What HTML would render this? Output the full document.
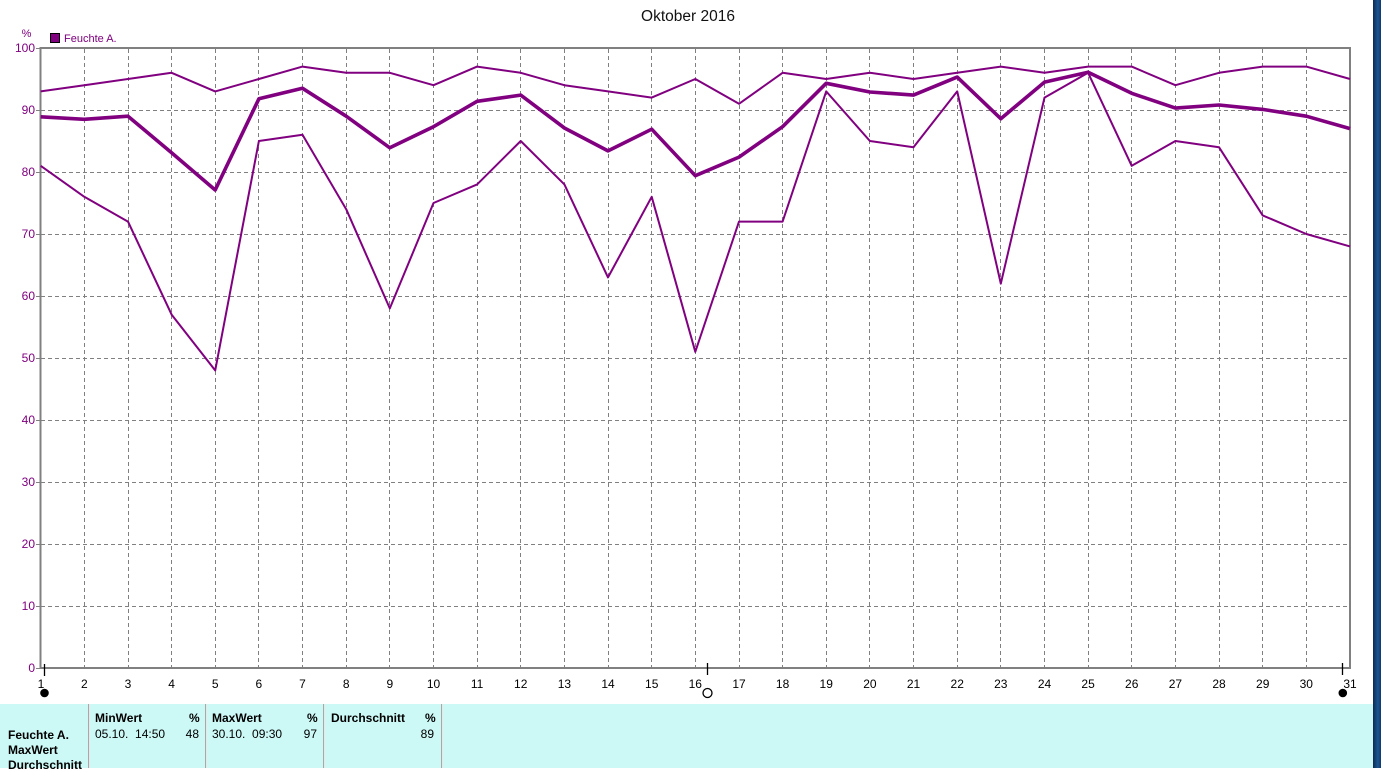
<!DOCTYPE html>
<html>
<head>
<meta charset="utf-8">
<style>
html,body{margin:0;padding:0;background:#fff;}
body{width:1381px;height:768px;overflow:hidden;position:relative;font-family:"Liberation Sans",Arial,sans-serif;}
#strip{position:absolute;left:1373px;top:0;width:8px;height:768px;background:linear-gradient(to right,#0b2a52,#1b5592 60%,#0e3a6e);}
#panel{position:absolute;left:0;top:704px;width:1373px;height:64px;background:#ccf8f6;}
.sep{position:absolute;top:704px;height:64px;width:1px;background:#a8a8a8;border-right:1px solid #e8e8e8;}
.t{position:absolute;font-size:12px;color:#000;white-space:nowrap;line-height:14px;}
.b{font-weight:bold;}
</style>
</head>
<body>
<svg width="1381" height="704" style="position:absolute;left:0;top:0" xmlns="http://www.w3.org/2000/svg">
  <text x="688" y="21" font-family="Liberation Sans, Arial, sans-serif" font-size="15.5" text-anchor="middle" fill="#111">Oktober 2016</text>
  <text x="26.5" y="37" font-family="Liberation Sans, Arial, sans-serif" font-size="11" text-anchor="middle" fill="#800080">%</text>
  <rect x="50.5" y="33.5" width="9" height="9" fill="#800080" stroke="#000" stroke-width="1"/>
  <text x="64" y="42" font-family="Liberation Sans, Arial, sans-serif" font-size="11" fill="#800080">Feuchte A.</text>

  <g stroke="#808080" stroke-width="1" stroke-dasharray="4 3" fill="none">
    <line x1="41" y1="606.5" x2="1349" y2="606.5"/>
    <line x1="41" y1="544.5" x2="1349" y2="544.5"/>
    <line x1="41" y1="482.5" x2="1349" y2="482.5"/>
    <line x1="41" y1="420.5" x2="1349" y2="420.5"/>
    <line x1="41" y1="358.5" x2="1349" y2="358.5"/>
    <line x1="41" y1="296.5" x2="1349" y2="296.5"/>
    <line x1="41" y1="234.5" x2="1349" y2="234.5"/>
    <line x1="41" y1="172.5" x2="1349" y2="172.5"/>
    <line x1="41" y1="110.5" x2="1349" y2="110.5"/>
    <line x1="84.5" y1="49" x2="84.5" y2="667"/>
    <line x1="128.5" y1="49" x2="128.5" y2="667"/>
    <line x1="171.5" y1="49" x2="171.5" y2="667"/>
    <line x1="215.5" y1="49" x2="215.5" y2="667"/>
    <line x1="258.5" y1="49" x2="258.5" y2="667"/>
    <line x1="302.5" y1="49" x2="302.5" y2="667"/>
    <line x1="346.5" y1="49" x2="346.5" y2="667"/>
    <line x1="389.5" y1="49" x2="389.5" y2="667"/>
    <line x1="433.5" y1="49" x2="433.5" y2="667"/>
    <line x1="477.5" y1="49" x2="477.5" y2="667"/>
    <line x1="520.5" y1="49" x2="520.5" y2="667"/>
    <line x1="564.5" y1="49" x2="564.5" y2="667"/>
    <line x1="608.5" y1="49" x2="608.5" y2="667"/>
    <line x1="651.5" y1="49" x2="651.5" y2="667"/>
    <line x1="695.5" y1="49" x2="695.5" y2="667"/>
    <line x1="739.5" y1="49" x2="739.5" y2="667"/>
    <line x1="782.5" y1="49" x2="782.5" y2="667"/>
    <line x1="826.5" y1="49" x2="826.5" y2="667"/>
    <line x1="869.5" y1="49" x2="869.5" y2="667"/>
    <line x1="913.5" y1="49" x2="913.5" y2="667"/>
    <line x1="957.5" y1="49" x2="957.5" y2="667"/>
    <line x1="1000.5" y1="49" x2="1000.5" y2="667"/>
    <line x1="1044.5" y1="49" x2="1044.5" y2="667"/>
    <line x1="1088.5" y1="49" x2="1088.5" y2="667"/>
    <line x1="1131.5" y1="49" x2="1131.5" y2="667"/>
    <line x1="1175.5" y1="49" x2="1175.5" y2="667"/>
    <line x1="1219.5" y1="49" x2="1219.5" y2="667"/>
    <line x1="1262.5" y1="49" x2="1262.5" y2="667"/>
    <line x1="1306.5" y1="49" x2="1306.5" y2="667"/>
  </g>

  <g stroke="#808080" stroke-width="2" fill="none">
    <line x1="40.5" y1="48" x2="1350" y2="48"/>
    <line x1="1350" y1="47" x2="1350" y2="669"/>
    <line x1="40.5" y1="47" x2="40.5" y2="669"/>
    <line x1="39.5" y1="668" x2="1351" y2="668"/>
  </g>
  <g stroke="#808080" stroke-width="1">
    <line x1="36" y1="48.5" x2="40" y2="48.5"/>
    <line x1="36" y1="110.5" x2="40" y2="110.5"/>
    <line x1="36" y1="172.5" x2="40" y2="172.5"/>
    <line x1="36" y1="234.5" x2="40" y2="234.5"/>
    <line x1="36" y1="296.5" x2="40" y2="296.5"/>
    <line x1="36" y1="358.5" x2="40" y2="358.5"/>
    <line x1="36" y1="420.5" x2="40" y2="420.5"/>
    <line x1="36" y1="482.5" x2="40" y2="482.5"/>
    <line x1="36" y1="544.5" x2="40" y2="544.5"/>
    <line x1="36" y1="606.5" x2="40" y2="606.5"/>
    <line x1="36" y1="668.5" x2="40" y2="668.5"/>
  </g>

  <g font-family="Liberation Sans, Arial, sans-serif" font-size="12" fill="#800080" text-anchor="end">
    <text x="35" y="52">100</text>
    <text x="35" y="114">90</text>
    <text x="35" y="176">80</text>
    <text x="35" y="238">70</text>
    <text x="35" y="300">60</text>
    <text x="35" y="362">50</text>
    <text x="35" y="424">40</text>
    <text x="35" y="486">30</text>
    <text x="35" y="548">20</text>
    <text x="35" y="610">10</text>
    <text x="35" y="672">0</text>
  </g>

  <g font-family="Liberation Sans, Arial, sans-serif" font-size="12" fill="#000" text-anchor="middle">
    <text x="41" y="688">1</text>
    <text x="84.3" y="688">2</text>
    <text x="128" y="688">3</text>
    <text x="171.6" y="688">4</text>
    <text x="215.2" y="688">5</text>
    <text x="258.9" y="688">6</text>
    <text x="302.5" y="688">7</text>
    <text x="346.2" y="688">8</text>
    <text x="389.8" y="688">9</text>
    <text x="433.5" y="688">10</text>
    <text x="477.1" y="688">11</text>
    <text x="520.7" y="688">12</text>
    <text x="564.4" y="688">13</text>
    <text x="608" y="688">14</text>
    <text x="651.7" y="688">15</text>
    <text x="695.3" y="688">16</text>
    <text x="739" y="688">17</text>
    <text x="782.6" y="688">18</text>
    <text x="826.2" y="688">19</text>
    <text x="869.9" y="688">20</text>
    <text x="913.5" y="688">21</text>
    <text x="957.2" y="688">22</text>
    <text x="1000.8" y="688">23</text>
    <text x="1044.5" y="688">24</text>
    <text x="1088.1" y="688">25</text>
    <text x="1131.7" y="688">26</text>
    <text x="1175.4" y="688">27</text>
    <text x="1219" y="688">28</text>
    <text x="1262.7" y="688">29</text>
    <text x="1306.3" y="688">30</text>
    <text x="1350" y="688">31</text>
  </g>

  <g stroke="#000" stroke-width="1.3">
    <line x1="44.5" y1="664" x2="44.5" y2="676"/>
    <line x1="707.5" y1="663" x2="707.5" y2="675"/>
    <line x1="1342.5" y1="663" x2="1342.5" y2="675"/>
  </g>
  <circle cx="44.5" cy="693" r="4.3" fill="#000"/>
  <circle cx="707.5" cy="693" r="4.5" fill="none" stroke="#000" stroke-width="1.3"/>
  <circle cx="1342.8" cy="693" r="4.3" fill="#000"/>

  <g fill="none" stroke="#800080" stroke-linejoin="round">
    <polyline stroke-width="2" points="40.7,91.4 84.3,85.2 128,79 171.6,72.8 215.2,91.4 258.9,79 302.5,66.6 346.2,72.8 389.8,72.8 433.5,85.2 477.1,66.6 520.7,72.8 564.4,85.2 608,91.4 651.7,97.6 695.3,79 739,103.8 782.6,72.8 826.2,79 869.9,72.8 913.5,79 957.2,72.8 1000.8,66.6 1044.5,72.8 1088.1,66.6 1131.7,66.6 1175.4,85.2 1219,72.8 1262.7,66.6 1306.3,66.6 1350,79"/>
    <polyline stroke-width="3.6" points="40.7,116.8 84.3,119.3 128,116.2 171.6,152.8 215.2,190 258.9,98.8 302.5,88.3 346.2,116.2 389.8,147.8 433.5,126.7 477.1,101.3 520.7,95.1 564.4,128 608,150.9 651.7,129.2 695.3,175.7 739,157.1 782.6,126.7 826.2,83.3 869.9,92 913.5,95.1 957.2,77.1 1000.8,118.7 1044.5,82.1 1088.1,72.2 1131.7,93.3 1175.4,108.1 1219,105 1262.7,109.4 1306.3,116.2 1350,128.6"/>
    <polyline stroke-width="2" points="40.7,165.8 84.3,196.8 128,221.6 171.6,314.6 215.2,370.4 258.9,141 302.5,134.8 346.2,209.2 389.8,308.4 433.5,203 477.1,184.4 520.7,141 564.4,184.4 608,277.4 651.7,196.8 695.3,351.8 739,221.6 782.6,221.6 826.2,91.4 869.9,141 913.5,147.2 957.2,91.4 1000.8,283.6 1044.5,97.6 1088.1,72.8 1131.7,165.8 1175.4,141 1219,147.2 1262.7,215.4 1306.3,234 1350,246.4"/>
  </g>
</svg>

<div id="panel"></div>
<div class="sep" style="left:88px"></div>
<div class="sep" style="left:205px"></div>
<div class="sep" style="left:323px"></div>
<div class="sep" style="left:441px"></div>

<div class="t b" style="left:8px;top:728px;">Feuchte A.</div>
<div class="t b" style="left:8px;top:743px;">MaxWert</div>
<div class="t b" style="left:8px;top:758px;">Durchschnitt</div>

<div class="t b" style="left:95px;top:711px;">MinWert</div>
<div class="t b" style="left:189px;top:711px;">%</div>
<div class="t" style="left:95px;top:727px;">05.10.&nbsp; 14:50</div>
<div class="t" style="left:180px;top:727px;width:19px;text-align:right;">48</div>

<div class="t b" style="left:212px;top:711px;">MaxWert</div>
<div class="t b" style="left:307px;top:711px;">%</div>
<div class="t" style="left:212px;top:727px;">30.10.&nbsp; 09:30</div>
<div class="t" style="left:297px;top:727px;width:20px;text-align:right;">97</div>

<div class="t b" style="left:331px;top:711px;">Durchschnitt</div>
<div class="t b" style="left:425px;top:711px;">%</div>
<div class="t" style="left:414px;top:727px;width:20px;text-align:right;">89</div>

<div id="strip"></div>
</body>
</html>
